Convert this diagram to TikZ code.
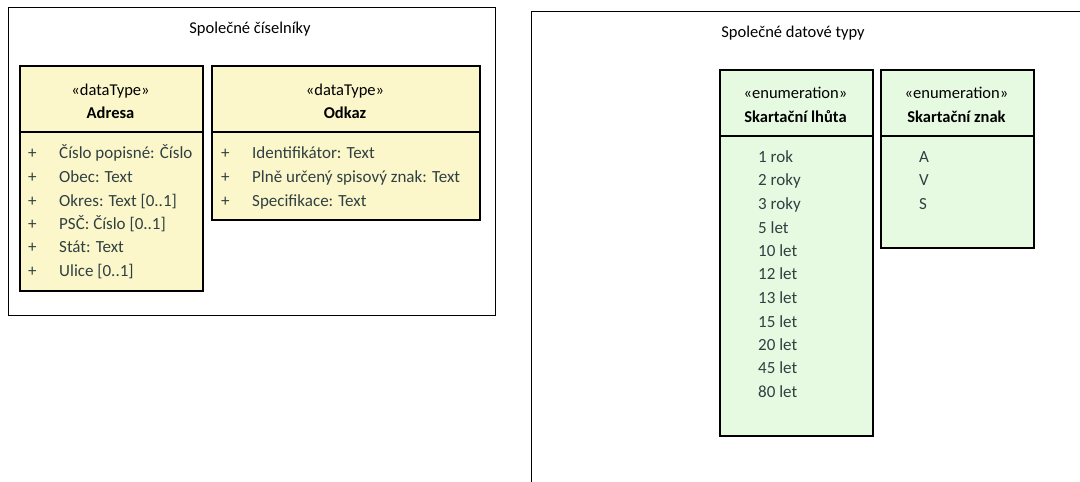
\documentclass[tikz,border=0pt]{standalone}
\usepackage{fontspec}
\setmainfont{Carlito}
\definecolor{dtfill}{RGB}{251,247,202}
\definecolor{enfill}{RGB}{230,250,226}
\definecolor{attr}{RGB}{48,64,66}
\begin{document}
\begin{tikzpicture}[x=1pt,y=-1pt,
  pkg/.style={draw=black,line width=1.1pt,fill=white,anchor=north west,inner sep=0pt},
  cls/.style={draw=black,line width=1.6pt,anchor=north west,inner sep=0pt},
  dt/.style={cls,fill=dtfill},
  en/.style={cls,fill=enfill},
  ttl/.style={font=\fontsize{16.5}{18}\selectfont,inner sep=0pt,anchor=base},
  hd/.style={font=\fontsize{16.5}{18}\selectfont,inner sep=0pt,anchor=base},
  hdb/.style={font=\fontsize{16.5}{18}\selectfont\bfseries,inner sep=0pt,anchor=base},
  attrtxt/.style={font=\fontsize{17}{18}\selectfont,text=attr,inner sep=0pt,anchor=base west},
  sep/.style={draw=black,line width=1.6pt}]
\useasboundingbox (0,0) rectangle (1080,482);
\begin{scope}
\clip (0,0) rectangle (1080,482);
% packages
\node[pkg,minimum width=487pt,minimum height=308pt] (pkgA) at (8,7) {};
\node[ttl] (pkgAt) at (250,33) {Společné číselníky};
\node[pkg,minimum width=600pt,minimum height=520pt] (pkgB) at (531,11) {};
\node[ttl] (pkgBt) at (793,37) {Společné datové typy};
% Adresa
\node[dt,minimum width=183pt,minimum height=225pt] (adresa) at (19,65) {};
\draw[sep] (19,132) coordinate (adl) -- (202,132) coordinate (adr);
\node[hd] (adS) at (110.5,95) {«dataType»};
\node[hdb] (adN) at (110.5,118) {Adresa};
\foreach \y/\t [count=\i] in {158/Číslo popisné: Číslo,182/Obec: Text,206/Okres: Text [0..1],229/PSČ: Číslo [0..1],252/Stát: Text,276/Ulice [0..1]}{
  \node[attrtxt] (adP\i) at (28,\y) {+};
  \node[attrtxt] (adA\i) at (59,\y) {\t};
}
% Odkaz
\node[dt,minimum width=268pt,minimum height=154pt] (odkaz) at (211,65) {};
\draw[sep] (211,132) coordinate (odl) -- (479,132) coordinate (odr);
\node[hd] (odS) at (345,95) {«dataType»};
\node[hdb] (odN) at (345,118) {Odkaz};
\foreach \y/\t [count=\i] in {158/Identifikátor: Text,182/Plně určený spisový znak: Text,206/Specifikace: Text}{
  \node[attrtxt] (odP\i) at (221,\y) {+};
  \node[attrtxt] (odA\i) at (252,\y) {\t};
}
% Skartacni lhuta
\node[en,minimum width=153pt,minimum height=366pt] (lhuta) at (719,69) {};
\draw[sep] (719,136) coordinate (lhl) -- (872,136) coordinate (lhr);
\node[hd] (lhS) at (795.5,98) {«enumeration»};
\node[hdb] (lhN) at (795.5,122) {Skartační lhůta};
\foreach \y/\t [count=\i] in {162/1 rok,185.5/2 roky,209/3 roky,233/5 let,256/10 let,279.5/12 let,303/13 let,327/15 let,350/20 let,373.5/45 let,397/80 let}{
  \node[attrtxt] (lhA\i) at (758,\y) {\t};
}
% Skartacni znak
\node[en,minimum width=153pt,minimum height=178pt] (znak) at (880,69) {};
\draw[sep] (880,136) coordinate (znl) -- (1033,136) coordinate (znr);
\node[hd] (znS) at (956.5,98) {«enumeration»};
\node[hdb] (znN) at (956.5,122) {Skartační znak};
\foreach \y/\t [count=\i] in {162/A,185.5/V,209/S}{
  \node[attrtxt] (znA\i) at (919,\y) {\t};
}
\end{scope}
\end{tikzpicture}
\end{document}
